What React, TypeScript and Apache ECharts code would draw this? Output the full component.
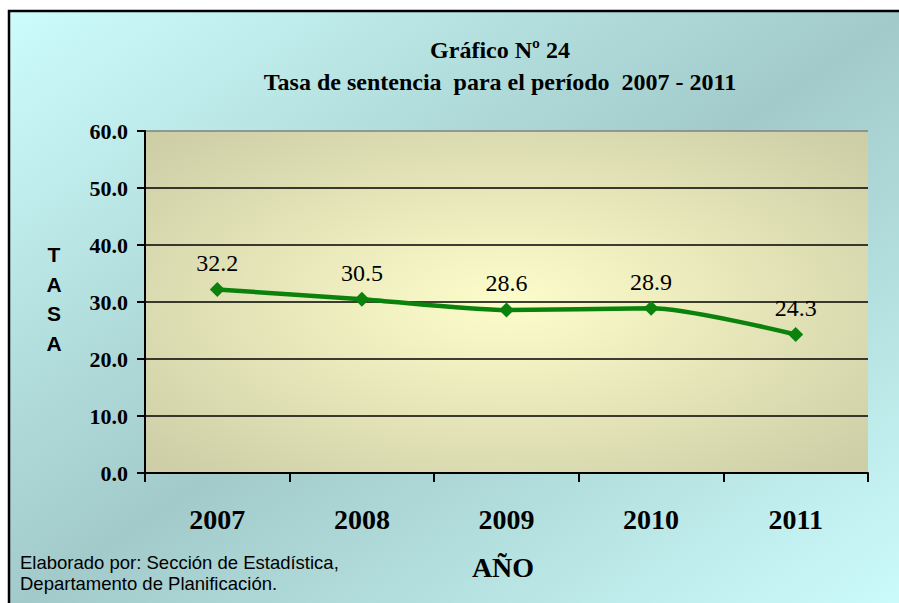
import React, { useEffect, useRef } from "react";
import * as echarts from "echarts";

const categories = ["2007", "2008", "2009", "2010", "2011"];
const tasa = [32.2, 30.5, 28.6, 28.9, 24.3];
const titleLines = ["Gráfico Nº 24", "Tasa de sentencia  para el período  2007 - 2011"];
const yName = ["T", "A", "S", "A"];
const xName = "AÑO";
const footnote = ["Elaborado por: Sección de Estadística,", "Departamento de Planificación."];

export default function App() {
  const ref = useRef<HTMLDivElement>(null);
  useEffect(() => {
    document.body.style.margin = "0";
    document.body.style.overflow = "hidden";
    if (!ref.current) return;
    const chart = echarts.init(ref.current, null, { renderer: "svg" });
    const option = {
      animation: false,
      backgroundColor: "#fff",
      title: {
        text: titleLines.join("\n"),
        left: 495,
        top: 29,
        textAlign: "center",
        textStyle: {
          fontFamily: "Liberation Serif",
          fontWeight: "bold",
          fontSize: 24,
          lineHeight: 32,
          color: "#000",
        },
      },
      graphic: [
        {
          type: "rect",
          z: -10,
          silent: true,
          shape: { x: 9, y: 11, width: 900, height: 600 },
          style: {
            fill: new echarts.graphic.LinearGradient(0, 0, 1, 1, [
              { offset: 0, color: "#cdfcfc" },
              { offset: 0.5, color: "#a2caca" },
              { offset: 1, color: "#cdfcfc" },
            ]),
            stroke: "#000",
            lineWidth: 2.5,
          },
        },
        {
          type: "text",
          x: 54,
          y: 240,
          style: {
            text: yName.join("\n"),
            font: "bold 21px Liberation Sans",
            lineHeight: 29.5,
            textAlign: "center",
            textVerticalAlign: "top",
            fill: "#000",
          },
        },
        {
          type: "text",
          x: 503,
          y: 567,
          style: {
            text: xName,
            font: "bold 28px Liberation Serif",
            textAlign: "center",
            textVerticalAlign: "middle",
            fill: "#000",
          },
        },
        {
          type: "text",
          x: 20,
          y: 552,
          style: {
            text: footnote.join("\n"),
            font: "18.5px Liberation Sans",
            lineHeight: 21,
            textVerticalAlign: "top",
            fill: "#000",
          },
        },
      ],
      grid: {
        left: 145,
        top: 131,
        right: 31,
        bottom: 130,
        show: true,
        borderWidth: 0,
        backgroundColor: new echarts.graphic.RadialGradient(0.5, 0.5, 0.75, [
          { offset: 0, color: "#fdfdcb" },
          { offset: 1, color: "#c9c9a3" },
        ]),
      },
      xAxis: {
        type: "category",
        data: categories,
        boundaryGap: true,
        axisLine: { lineStyle: { color: "#000", width: 2 } },
        axisTick: { show: true, length: 9, alignWithLabel: false, lineStyle: { color: "#000", width: 2 } },
        axisLabel: {
          margin: 32,
          fontFamily: "Liberation Serif",
          fontWeight: "bold",
          fontSize: 28,
          color: "#000",
        },
      },
      yAxis: {
        type: "value",
        min: 0,
        max: 60,
        interval: 10,
        axisLine: { show: true, lineStyle: { color: "#000", width: 2 } },
        axisTick: { show: true, length: 8, lineStyle: { color: "#000", width: 2 } },
        axisLabel: {
          margin: 17,
          formatter: (v: number) => v.toFixed(1),
          fontFamily: "Liberation Serif",
          fontWeight: "bold",
          fontSize: 22,
          color: "#000",
        },
        splitLine: {
          show: true,
          lineStyle: { color: ["#000", "#000", "#000", "#000", "#000", "#000", "#808080"], width: 1.5 },
        },
      },
      series: [
        {
          type: "line",
          data: tasa,
          smooth: 0.25,
          symbol: "diamond",
          symbolSize: 15,
          lineStyle: { color: "#0b820b", width: 4.5 },
          itemStyle: { color: "#0b820b" },
          label: {
            show: true,
            position: "top",
            distance: 7,
            formatter: (p: any) => p.value.toFixed(1),
            fontFamily: "Liberation Serif",
            fontSize: 24,
            color: "#000",
          },
        },
      ],
    };
    chart.setOption(option as any);
    return () => chart.dispose();
  }, []);
  return <div ref={ref} style={{ width: 899, height: 603 }} />;
}
